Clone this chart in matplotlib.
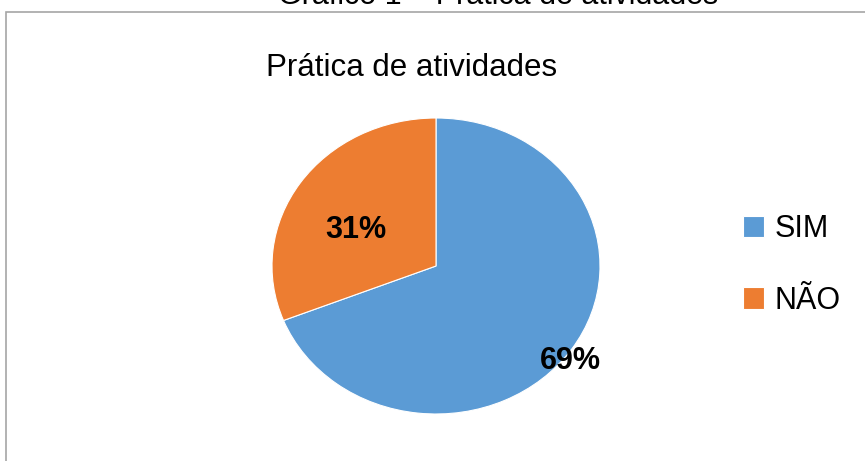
import matplotlib.pyplot as plt
from matplotlib.patches import Rectangle

# data
labels = ['SIM', 'NÃO']
values = [69, 31]
colors = ['#5B9BD5', '#ED7D31']

plt.rcParams['font.family'] = ['Liberation Sans', 'DejaVu Sans']

W, H = 865, 461
fig = plt.figure(figsize=(W / 100, H / 100), dpi=100)

# chart border (gray box, cut by the image edges)
fig.patches.append(Rectangle((5.5 / W, -0.1), 1.2, (H - 12.5) / H + 0.1,
                             transform=fig.transFigure, fill=False,
                             edgecolor='#a6a6a6', linewidth=1.2))

# cut-off caption above the chart
fig.text(498 / W, 1 - 4 / H, 'Gráfico 1 – Prática de atividades',
         ha='center', va='baseline', fontsize=22, color='black')

# pie axes (slightly wider than tall, as in the reference)
ax = fig.add_axes([272 / W, (H - 414) / H, 328 / W, 296 / H])
wedges, texts, autotexts = ax.pie(values, colors=colors, startangle=90,
                                  counterclock=False, autopct='%1.0f%%',
                                  wedgeprops=dict(edgecolor='white', linewidth=0.8),
                                  textprops=dict(fontsize=22, fontweight='bold'))
ax.set_aspect('auto')
ax.set_xlim(-1, 1)
ax.set_ylim(-1, 1)

# data label placement as in the reference
label_pos = [(0.82, -0.64), (-0.49, 0.24)]
for t, p in zip(autotexts, label_pos):
    t.set_position(p)

fig.text(412 / W, 1 - 68 / H, 'Prática de atividades', ha='center',
         va='center', fontsize=22.5)

fig.legend(wedges, labels, loc='center left',
           bbox_to_anchor=(715 / W, 1 - 265 / H), frameon=False,
           fontsize=22, handlelength=0.7, handleheight=0.7,
           handletextpad=0.35, labelspacing=1.35)

fig.savefig('out.png', dpi=100)
